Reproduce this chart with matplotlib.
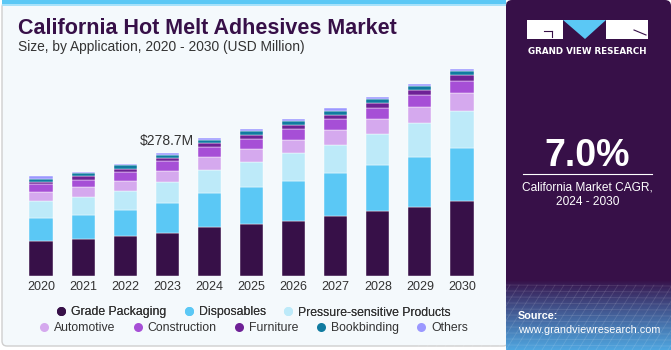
import numpy as np
import matplotlib.pyplot as plt
from matplotlib.patches import Rectangle, FancyBboxPatch, Polygon
from matplotlib.lines import Line2D

years = ['2020', '2021', '2022', '2023', '2024', '2025', '2026', '2027', '2028', '2029', '2030']
segments = ['Grade Packaging', 'Disposables', 'Pressure-sensitive Products', 'Automotive',
            'Construction', 'Furniture', 'Bookbinding', 'Others']

# values in USD million
grade_packaging = [79.5, 82.5, 89.3, 97.7, 109.8, 116.6, 124.9, 135.5, 146.1, 156.7, 168.8]
disposables = [52.2, 55.3, 60.6, 68.1, 77.2, 84.0, 89.3, 96.9, 104.5, 112.0, 120.4]
pressure_sensitive = [37.1, 41.6, 43.1, 46.9, 53.7, 56.8, 63.6, 65.1, 71.9, 77.2, 85.5]
automotive = [21.2, 21.2, 22.7, 25.7, 28.0, 30.3, 29.5, 32.6, 33.3, 37.9, 40.9]
construction = [18.2, 17.4, 18.9, 21.2, 22.7, 22.7, 25.0, 25.0, 25.0, 26.5, 26.5]
furniture = [5.3, 7.6, 7.6, 6.8, 9.1, 9.8, 9.8, 10.6, 11.4, 10.6, 12.9]
bookbinding = [6.8, 6.8, 8.3, 6.8, 6.8, 7.6, 8.3, 9.1, 8.3, 10.6, 9.1]
others = [5.3, 3.8, 3.0, 5.3, 5.3, 5.3, 6.1, 6.1, 6.1, 4.5, 6.1]

colors = ['#371048', '#5bc8f5', '#bdeaf9', '#d5a9ee', '#a64fd6', '#6e2196', '#107ba0', '#9b98ff']
series = [grade_packaging, disposables, pressure_sensitive, automotive,
          construction, furniture, bookbinding, others]

annot_year = '2023'
annot_text = '$278.7M'

W, H = 671, 350
fig = plt.figure(figsize=(W / 100, H / 100), dpi=100)
fig.patch.set_facecolor('white')

# background layer in pixel coordinates
bg = fig.add_axes([0, 0, 1, 1], zorder=0)
bg.set_xlim(0, W)
bg.set_ylim(H, 0)
bg.axis('off')

bg.add_patch(FancyBboxPatch((2, 2), 506, 344, boxstyle='round,pad=0,rounding_size=5',
                            facecolor='#f4f9fc', edgecolor='#cfcfcf', lw=1))
bg.add_patch(Rectangle((2, 0), 504, 4, facecolor='#5bc8f5', edgecolor='none'))
bg.add_patch(Rectangle((2, 4), 504, 1.5, facecolor='#a8e2fa', edgecolor='none'))

# right panel
bg.add_patch(FancyBboxPatch((506, 0), 165, 350, boxstyle='round,pad=0,rounding_size=6',
                            facecolor='#371048', edgecolor='none'))
grad = np.linspace(0, 1, 100).reshape(-1, 1)
c0 = np.array([0x37, 0x10, 0x48]) / 255
c1 = np.array([0x4f, 0xa6, 0xe0]) / 255
img = c0 + (c1 - c0) * grad[..., None] ** 0.9
bg.imshow(img, extent=(506, 671, 350, 280), aspect='auto', zorder=1)
for k in range(12):
    yy = 285 + k * 6
    bg.plot([506, 671], [yy, yy + 1], color='white', alpha=0.12, lw=0.6, zorder=2)
for k in range(-10, 30):
    x0 = 506 + k * 9
    bg.plot([x0 + 40, x0], [285, 350], color='white', alpha=0.12, lw=0.6, zorder=2)

# logo
bg.add_patch(Rectangle((527, 20), 36, 19, facecolor='white', edgecolor='none', zorder=3))
bg.add_patch(Polygon([(563, 20), (606, 20), (585, 39)], closed=True,
                     facecolor='#5bc8f5', edgecolor='none', zorder=3))
bg.add_patch(Rectangle((606, 20), 42, 19, facecolor='white', edgecolor='none', zorder=3))
bg.plot([544, 552], [31, 31], color='#371048', lw=0.8, zorder=4)
bg.plot([552, 552], [31, 37], color='#371048', lw=0.8, zorder=4)
bg.plot([634, 646], [30, 35], color='#371048', lw=0.8, zorder=4)
bg.text(587.5, 51, 'GRAND VIEW RESEARCH', color='white', fontsize=6.3, fontweight='bold',
        ha='center', va='center', family='DejaVu Sans', zorder=4)

bg.text(587.5, 156, '7.0%', color='white', fontsize=27, fontweight='bold',
        ha='center', va='center', family='Liberation Sans', zorder=4)
bg.plot([523, 652], [173.5, 173.5], color='white', lw=0.8, zorder=4)
bg.text(587.5, 187, 'California Market CAGR,', color='white', fontsize=8.6,
        ha='center', va='center', family='Liberation Sans', zorder=4)
bg.text(587.5, 202, '2024 - 2030', color='white', fontsize=8.6,
        ha='center', va='center', family='Liberation Sans', zorder=4)
bg.text(518, 316, 'Source:', color='white', fontsize=7.8, fontweight='bold',
        ha='left', va='center', family='Liberation Sans', zorder=4)
bg.text(518, 330, 'www.grandviewresearch.com', color='white', fontsize=7.8,
        ha='left', va='center', family='Liberation Sans', zorder=4)

# titles
bg.text(18, 28.5, 'California Hot Melt Adhesives Market', color='#371048', fontsize=15.5,
        fontweight='bold', ha='left', va='center', family='Liberation Sans')
bg.text(18, 47, 'Size, by Application, 2020 - 2030 (USD Million)', color='#333333',
        fontsize=9.9, ha='left', va='center', family='Liberation Sans')

# chart
ax_l, ax_r, ax_t, ax_b = 20, 483, 60, 275.7
ax = fig.add_axes([ax_l / W, (H - ax_b) / H, (ax_r - ax_l) / W, (ax_b - ax_t) / H], zorder=1)
ax.patch.set_alpha(0)
x = np.arange(len(years))
bottom = np.zeros(len(years))
for name, vals, col in zip(segments, series, colors):
    ax.bar(x, vals, 0.55, bottom=bottom, color=col, label=name,
           edgecolor='#ffffff', linewidth=0.3)
    bottom += np.array(vals)

ax.set_xlim(-0.5, len(years) - 0.5)
ax.set_ylim(0, (ax_b - ax_t) * 2.271)
ax.set_xticks(x)
ax.set_xticklabels(years, fontsize=9, color='#333333', family='Liberation Sans')
ax.tick_params(axis='x', length=0, pad=4)
ax.set_yticks([])
for s in ax.spines.values():
    s.set_visible(False)

i = years.index(annot_year)
ax.text(x[i], bottom[i] + 28, annot_text, ha='center', va='center', fontsize=10,
        color='#333333', family='Liberation Sans')

# legend, two centered rows
handles = [Line2D([], [], marker='o', ls='none', markersize=6.5, markerfacecolor=c,
                  markeredgecolor='none', label=n) for n, c in zip(segments, colors)]
leg_kw = dict(frameon=False, loc='center', handletextpad=0.3, columnspacing=1.35,
              prop={'family': 'Liberation Sans', 'size': 8.8}, labelcolor='#333333',
              handlelength=1.0)
leg1 = fig.legend(handles=handles[:3], ncol=3, bbox_to_anchor=(253 / W, 1 - 312.5 / H), **leg_kw)
fig.add_artist(leg1)
fig.legend(handles=handles[3:], ncol=5, bbox_to_anchor=(253 / W, 1 - 328 / H), **leg_kw)

fig.savefig('out.png', dpi=100, facecolor='white')
